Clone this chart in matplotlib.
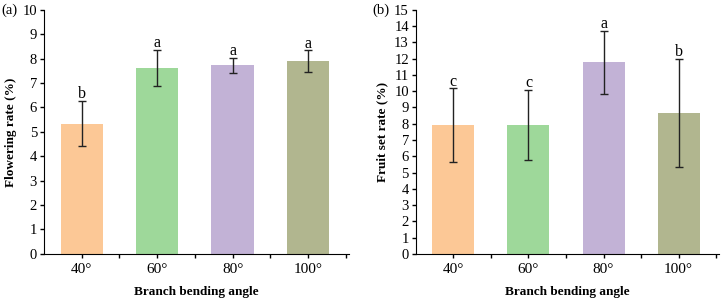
import numpy as np
import matplotlib.pyplot as plt

plt.rcParams['font.family'] = ['Liberation Serif', 'DejaVu Serif']

angles = ['40°', '60°', '80°', '100°']
flowering = [5.33, 7.63, 7.72, 7.90]
flowering_err = [0.93, 0.73, 0.30, 0.44]
flowering_sig = ['b', 'a', 'a', 'a']
fruit_set = [7.92, 7.93, 11.77, 8.65]
fruit_set_err = [2.25, 2.13, 1.95, 3.33]
fruit_set_sig = ['c', 'c', 'a', 'b']
colors = ['#FCC896', '#9ED89A', '#C2B2D6', '#B1B68F']

fig = plt.figure(figsize=(7.22, 2.99), dpi=100)
ax1 = fig.add_axes([0.061, 0.151, 0.422, 0.816])
ax2 = fig.add_axes([0.576, 0.151, 0.420, 0.816])


def draw_panel(ax, vals, errs, sigs, ymax, ylabel, tag):
    x = np.arange(len(angles))
    ax.bar(x, vals, width=0.56, color=colors, zorder=1)
    ax.errorbar(x, vals, yerr=errs, fmt='none', ecolor='#222222',
                elinewidth=1, capsize=3, capthick=1, zorder=2)
    for xi, v, e, s in zip(x, vals, errs, sigs):
        ax.text(xi, v + e - 0.005 * ymax, s, ha='center', va='bottom', fontsize=11.5)
    ax.set_xlim(-0.5, 3.54)
    ax.set_ylim(0, ymax)
    ax.set_yticks(np.arange(0, ymax + 1, 1))
    ax.set_xticks(x)
    ax.set_xticklabels(angles, fontsize=11)
    ax.set_xticks(x + 0.5, minor=True)
    ax.tick_params(axis='both', which='both', direction='out', length=3, width=1)
    ax.tick_params(axis='y', labelsize=10.5, pad=2)
    ax.spines['top'].set_visible(False)
    ax.spines['right'].set_visible(False)
    ax.set_ylabel(ylabel, fontsize=9.5, fontweight='bold', labelpad=4)
    ax.set_xlabel('Branch bending angle', fontsize=9.5, fontweight='bold', labelpad=7)
    ax.text(-0.14 if tag == '(a)' else -0.142, 1.0, tag, transform=ax.transAxes,
            ha='left', va='center', fontsize=10.5)


draw_panel(ax1, flowering, flowering_err, flowering_sig, 10, 'Flowering rate (%)', '(a)')
draw_panel(ax2, fruit_set, fruit_set_err, fruit_set_sig, 15, 'Fruit set rate (%)', '(b)')

fig.savefig('out.png', dpi=100)
